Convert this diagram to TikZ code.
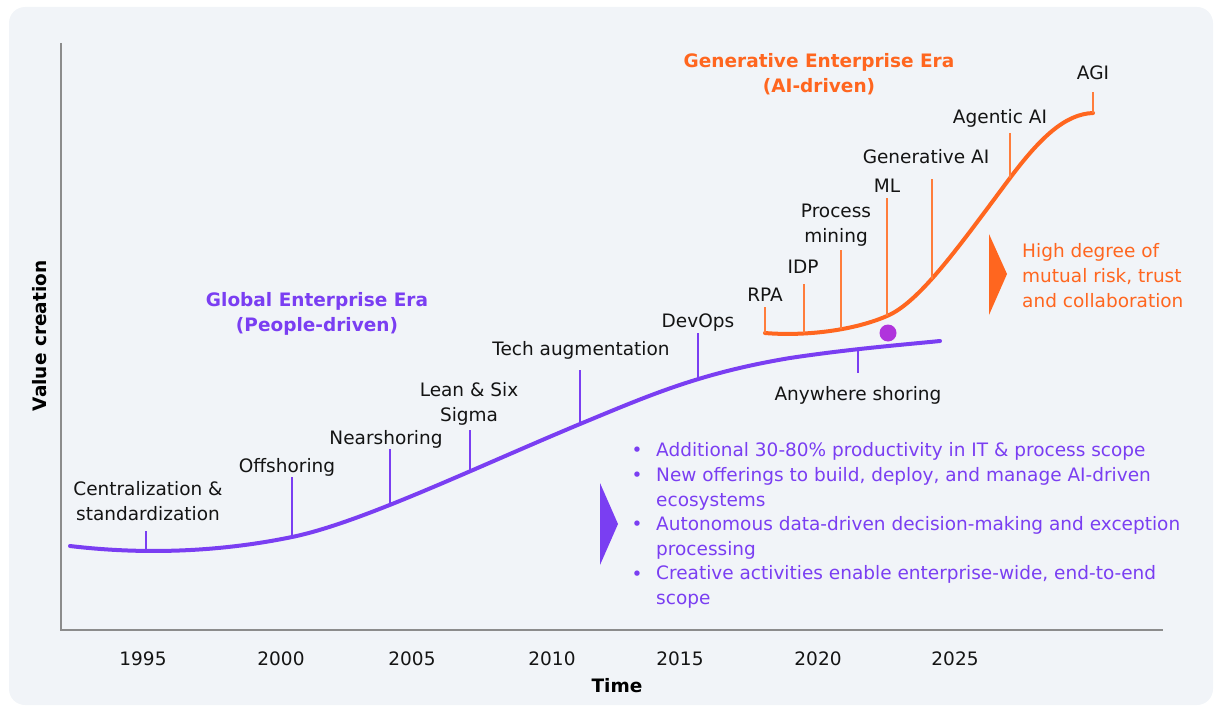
\documentclass[tikz,border=0pt]{standalone}
\usepackage{fontspec}
\setmainfont{DejaVu Sans}
\definecolor{panelbg}{RGB}{241,244,248}
\definecolor{axisgray}{RGB}{140,140,140}
\definecolor{gpurple}{RGB}{122,62,242}
\definecolor{gorange}{RGB}{255,102,31}
\definecolor{tickorange}{RGB}{255,125,60}
\definecolor{dotpurple}{RGB}{176,52,220}
\definecolor{txt}{RGB}{20,20,20}
\begin{document}
\begin{tikzpicture}[x=1pt,y=-1pt,
  lbl/.style={font=\fontsize{18.5}{25}\selectfont, inner sep=0pt, text=txt, align=center, anchor=base},
  ttl/.style={font=\fontsize{18.5}{25}\selectfont\bfseries, inner sep=0pt, align=center, anchor=base},
  bul/.style={font=\fontsize{18.5}{24.5}\selectfont, inner sep=0pt, text=gpurple, anchor=base west, align=left},
  ptick/.style={draw=gpurple, line width=1.4pt},
  otick/.style={draw=tickorange, line width=1.4pt},
  axisline/.style={draw=axisgray, line width=1.5pt},
  bigcurve/.style={line width=4pt, line cap=round}]
\useasboundingbox (0,0) rectangle (1218,706);
\fill[panelbg, rounded corners=16pt] (9,7) rectangle (1213,705);

% axes
\coordinate (ytop) at (61,43);
\coordinate (origin) at (61,630);
\coordinate (xend) at (1163,630);
\draw[axisline] (ytop) -- (origin) -- (xend);
\node[ttl, text=black, rotate=90, anchor=center] (ylab) at (40,336) {Value creation};
\node[ttl, text=black] (xlab) at (617,692) {Time};
\foreach \x/\yr in {143/1995,281/2000,412/2005,552/2010,680/2015,818/2020,955/2025}
  \node[lbl] (yr\yr) at (\x,665) {\yr};

% purple curve
\coordinate (p1) at (146,551);
\coordinate (p2) at (292,537);
\coordinate (p3) at (390,506);
\coordinate (p4) at (470,471);
\coordinate (p5) at (580,424);
\coordinate (p6) at (698,379);
\coordinate (p7) at (858,349);
\draw[bigcurve, gpurple] (70,546) .. controls (120,552) and (200,556) .. (292,537)
  .. controls (360,523) and (470,470) .. (580,424)
  .. controls (650,395) and (700,373) .. (790,358)
  .. controls (850,349) and (900,345) .. (940,341);

% purple ticks
\coordinate (t1) at (146,531);
\coordinate (t2) at (292,477);
\coordinate (t3) at (390,449);
\coordinate (t4) at (470,430);
\coordinate (t5) at (580,370);
\coordinate (t6) at (698,333);
\coordinate (t7) at (858,373);
\draw[ptick] (t1) -- (p1);
\draw[ptick] (t2) -- (p2);
\draw[ptick] (t3) -- (p3);
\draw[ptick] (t4) -- (p4);
\draw[ptick] (t5) -- (p5);
\draw[ptick] (t6) -- (p6);
\draw[ptick] (p7) -- (t7);

\node[lbl] (centr) at (148,520) {Centralization \&\\standardization};
\node[lbl] (offs) at (287,472) {Offshoring};
\node[lbl] (nears) at (386,444) {Nearshoring};
\node[lbl] (lean) at (469,421) {Lean \& Six\\Sigma};
\node[lbl] (tech) at (581,355) {Tech augmentation};
\node[lbl] (devops) at (698,327) {DevOps};
\node[lbl] (anyw) at (858,400) {Anywhere shoring};

% orange curve
\coordinate (o0) at (765,333);
\coordinate (o1) at (804,333);
\coordinate (o2) at (841,329);
\coordinate (o3) at (887,316);
\coordinate (o4) at (932,279);
\coordinate (o5) at (1010,178);
\coordinate (o6) at (1093,113);
\draw[bigcurve, gorange] (o0) .. controls (800,336) and (850,332) .. (o3)
  .. controls (920,302) and (960,245) .. (o5)
  .. controls (1040,138) and (1065,114) .. (o6);

\coordinate (u0) at (765,307);
\coordinate (u1) at (804,284);
\coordinate (u2) at (841,250);
\coordinate (u3) at (887,198);
\coordinate (u4) at (932,179);
\coordinate (u5) at (1010,133);
\coordinate (u6) at (1093,92);
\draw[otick] (u0) -- (o0);
\draw[otick] (u1) -- (o1);
\draw[otick] (u2) -- (o2);
\draw[otick] (u3) -- (o3);
\draw[otick] (u4) -- (o4);
\draw[otick] (u5) -- (o5);
\draw[otick] (u6) -- (o6);

\node[lbl] (rpa) at (765,301) {RPA};
\node[lbl] (idp) at (803,273) {IDP};
\node[lbl] (pm) at (836,242) {Process\\mining};
\node[lbl] (ml) at (887,193) {ML};
\node[lbl] (genai) at (926,164) {Generative AI};
\node[lbl] (agentic) at (1000,124) {Agentic AI};
\node[lbl] (agi) at (1093,80) {AGI};

\fill[dotpurple] (888,333) circle (8.5);

% era titles
\node[ttl, text=gorange] (genera) at (819,93) {Generative Enterprise Era\\(AI-driven)};
\node[ttl, text=gpurple] (globera) at (317,331) {Global Enterprise Era\\(People-driven)};

% orange callout
\fill[gorange] (989,234) -- (1007,274) -- (989,315) -- cycle;
\node[bul, text=gorange, font=\fontsize{18.5}{25}\selectfont] (risk) at (1022,307) {High degree of\\mutual risk, trust\\and collaboration};

% purple callout
\fill[gpurple] (600,483) -- (618,524) -- (600,565) -- cycle;
\foreach \yb in {456,481,530,580}
  \node[bul, anchor=base] at (637,\yb) {•};
\node[bul] (b1) at (656,456) {Additional 30-80\% productivity in IT \& process scope};
\node[bul] (b2) at (656,506) {New offerings to build, deploy, and manage AI-driven\\ecosystems};
\node[bul] (b3) at (656,555) {Autonomous data-driven decision-making and exception\\processing};
\node[bul] (b4) at (656,604) {Creative activities enable enterprise-wide, end-to-end\\scope};
\end{tikzpicture}
\end{document}
